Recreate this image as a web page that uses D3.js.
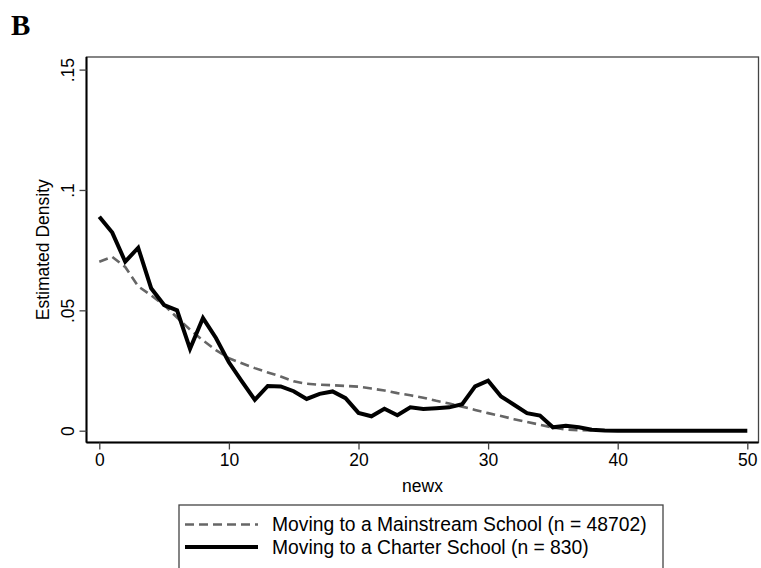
<!DOCTYPE html>
<html>
<head>
<meta charset="utf-8">
<script src="https://cdn.jsdelivr.net/npm/d3@7"></script>
<style>
  html, body { margin: 0; padding: 0; background: #fff; }
  svg { display: block; }
</style>
</head>
<body>
<svg id="chart" width="761" height="568"></svg>
<script>
const newx = d3.range(0, 51);
const mainstream = [0.0702, 0.0722, 0.0680, 0.0600, 0.0562, 0.0522, 0.0470, 0.0420, 0.0375, 0.0335,
  0.0301, 0.0280, 0.0260, 0.0242, 0.0225, 0.0205, 0.0195, 0.0191, 0.0189, 0.0186,
  0.0183, 0.0175, 0.0167, 0.0156, 0.0147, 0.0137, 0.0124, 0.0113, 0.0100, 0.0086,
  0.0073, 0.0061, 0.0048, 0.0036, 0.0025, 0.0013, 0.0005, 0.0002, 0.0001, 0,
  0, 0, 0, 0, 0, 0, 0, 0, 0, 0, 0];
const charter = [0.0889, 0.0823, 0.0702, 0.0760, 0.0592, 0.0522, 0.0500, 0.0340, 0.0468, 0.0385,
  0.0284, 0.0205, 0.0128, 0.0186, 0.0184, 0.0164, 0.0132, 0.0153, 0.0163, 0.0135,
  0.0074, 0.0060, 0.0091, 0.0064, 0.0097, 0.0090, 0.0093, 0.0097, 0.0110, 0.0184,
  0.0208, 0.0142, 0.0108, 0.0073, 0.0063, 0.0014, 0.0020, 0.0014, 0.0004, 0.0001,
  0, 0, 0, 0, 0, 0, 0, 0, 0, 0, 0];
const xTicks = [0, 10, 20, 30, 40, 50];
const yTicks = [0, 0.05, 0.1, 0.15];
const yTickLabels = ["0", ".05", ".1", ".15"];
const legendLabels = ["Moving to a Mainstream School (n = 48702)", "Moving to a Charter School (n = 830)"];

const svg = d3.select("#chart");
const font = "'Liberation Sans', Arial, Helvetica, sans-serif";

const frame = {left: 86.5, top: 57, right: 758.5, bottom: 442.5};
const x = d3.scaleLinear().domain([0, 50]).range([99.3, 747.3]);
const y = d3.scaleLinear().domain([0, 0.15]).range([430.7, 69.6]);

// panel label
svg.append("text").attr("x", 11).attr("y", 35)
  .attr("font-family", "'Liberation Serif', 'Times New Roman', serif")
  .attr("font-weight", "bold").attr("font-size", 29).text("B");

// plot frame
svg.append("rect")
  .attr("x", frame.left).attr("y", frame.top)
  .attr("width", frame.right - frame.left).attr("height", frame.bottom - frame.top)
  .attr("fill", "none").attr("stroke", "#444").attr("stroke-width", 1.3);

// x axis
const xAxis = svg.append("g").attr("transform", `translate(0,${frame.bottom})`)
  .call(d3.axisBottom(x).tickValues(xTicks).tickSize(7).tickPadding(4).tickFormat(d3.format("d")));
xAxis.select(".domain").attr("stroke", "#000").attr("stroke-width", 2).attr("d", `M${frame.left},0H${frame.right}`);
xAxis.selectAll(".tick line").attr("stroke", "#444").attr("stroke-width", 1.3);
xAxis.selectAll(".tick text").attr("font-family", font).attr("font-size", 17.5).attr("fill", "#000");

// y axis
const yAxis = svg.append("g").attr("transform", `translate(${frame.left},0)`)
  .call(d3.axisLeft(y).tickValues(yTicks).tickSize(7).tickPadding(0)
    .tickFormat((d, i) => yTickLabels[i]));
yAxis.select(".domain").attr("stroke", "#000").attr("stroke-width", 2).attr("d", `M0,${frame.top}V${frame.bottom}`);
yAxis.selectAll(".tick line").attr("stroke", "#444").attr("stroke-width", 1.3);
yAxis.selectAll(".tick text")
  .attr("font-family", font).attr("font-size", 17.5).attr("fill", "#000")
  .attr("x", null).attr("dy", null)
  .attr("text-anchor", "middle")
  .attr("transform", "translate(-13,0) rotate(-90)")
  .attr("y", 0);

// axis titles
svg.append("text").attr("x", (frame.left + frame.right) / 2).attr("y", 492)
  .attr("text-anchor", "middle").attr("font-family", font).attr("font-size", 17.5).text("newx");
svg.append("text")
  .attr("transform", `translate(49,${(frame.top + frame.bottom) / 2}) rotate(-90)`)
  .attr("text-anchor", "middle").attr("font-family", font).attr("font-size", 17.5).text("Estimated Density");

// lines
const line = d3.line().x((d, i) => x(newx[i])).y(d => y(d));
svg.append("path").datum(mainstream).attr("d", line)
  .attr("fill", "none").attr("stroke", "#666").attr("stroke-width", 2.6)
  .attr("stroke-dasharray", "9,5");
svg.append("path").datum(charter).attr("d", line)
  .attr("fill", "none").attr("stroke", "#000").attr("stroke-width", 4)
  .attr("stroke-linejoin", "miter");

// legend
const lg = svg.append("g");
lg.append("rect").attr("x", 179).attr("y", 505).attr("width", 484).attr("height", 70)
  .attr("fill", "#fff").attr("stroke", "#444").attr("stroke-width", 1.3);
const rows = [524.5, 547];
lg.append("line").attr("x1", 185).attr("x2", 258).attr("y1", rows[0]).attr("y2", rows[0])
  .attr("stroke", "#666").attr("stroke-width", 2.6).attr("stroke-dasharray", "9,5");
lg.append("line").attr("x1", 185).attr("x2", 258).attr("y1", rows[1]).attr("y2", rows[1])
  .attr("stroke", "#000").attr("stroke-width", 4);
legendLabels.forEach((t, i) => {
  lg.append("text").attr("x", 272).attr("y", rows[i]).attr("dy", "0.35em")
    .attr("font-family", font).attr("font-size", 19.3).text(t);
});
</script>
</body>
</html>
